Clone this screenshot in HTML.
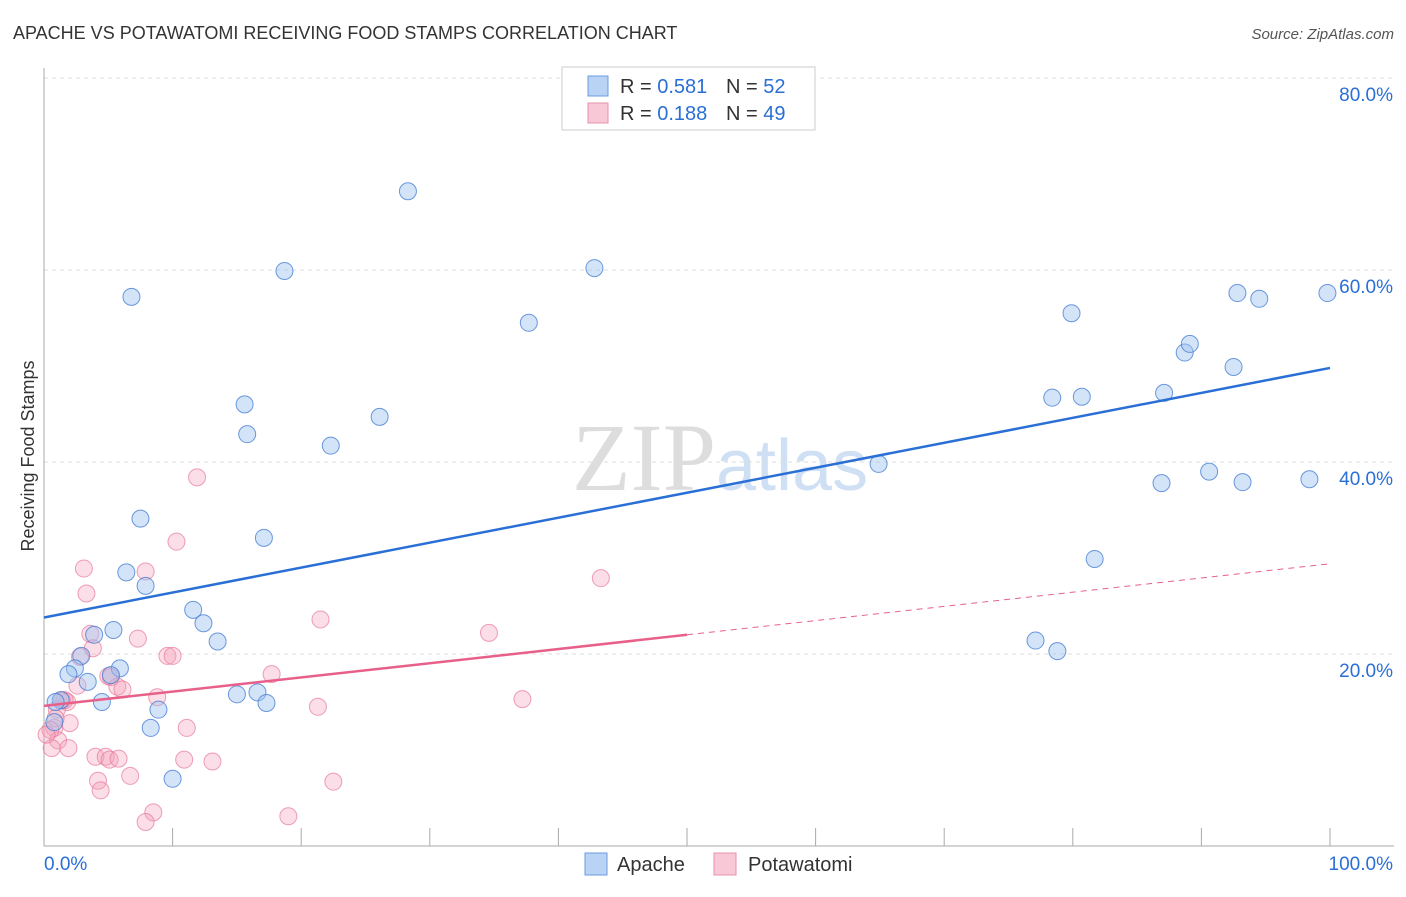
<!DOCTYPE html>
<html><head><meta charset="utf-8"><style>
body{margin:0;background:#fff;font-family:"Liberation Sans",sans-serif;}
#wrap{position:relative;width:1406px;height:892px;}
</style></head><body>
<div id="wrap">
<svg id="svg" width="1406" height="892" xmlns="http://www.w3.org/2000/svg">
<text x="13" y="39" font-size="18" fill="#333">APACHE VS POTAWATOMI RECEIVING FOOD STAMPS CORRELATION CHART</text>
<text x="1394" y="39" font-size="15" fill="#555" font-style="italic" text-anchor="end">Source: ZipAtlas.com</text>
<text x="34" y="456" font-size="18" fill="#333" transform="rotate(-90 34 456)" text-anchor="middle">Receiving Food Stamps</text>
<text x="716" y="490" font-size="96" fill="#ddd" text-anchor="end" font-family="Liberation Serif">ZIP</text>
<text x="716" y="490" font-size="72" fill="#cfe0f4">atlas</text>
<g id="grid"></g><g id="axes"></g><g id="pts"></g><g id="trends"></g>
<g>
<rect x="562" y="67" width="253" height="63" fill="#fff" stroke="#ccc"/>
<rect x="588" y="76" width="20" height="20" fill="#b9d3f5" stroke="#6a9be0"/>
<rect x="588" y="103" width="20" height="20" fill="#f8c8d6" stroke="#e890aa"/>
<text x="620" y="93" font-size="20" fill="#333">R = <tspan fill="#2a6fd6">0.581</tspan></text>
<text x="726" y="93" font-size="20" fill="#333">N = <tspan fill="#2a6fd6">52</tspan></text>
<text x="620" y="120" font-size="20" fill="#333">R = <tspan fill="#2a6fd6">0.188</tspan></text>
<text x="726" y="120" font-size="20" fill="#333">N = <tspan fill="#2a6fd6">49</tspan></text>
</g>
<g>
<rect x="585" y="853" width="22" height="22" fill="#b9d3f5" stroke="#6a9be0"/>
<text x="617" y="871" font-size="20" fill="#333">Apache</text>
<rect x="714" y="853" width="22" height="22" fill="#f8c8d6" stroke="#e890aa"/>
<text x="748" y="871" font-size="20" fill="#333">Potawatomi</text>
</g>
</svg></div>
<script>
const yTicks=[20,40,60,80];
const yTickLabels=["20.0%","40.0%","60.0%","80.0%"];
const xTickLabels=["0.0%","100.0%"];
const apacheX=[6.8,18.7,28.3,42.8,37.7,15.6,15.8,22.3,26.1,7.5,17.1,6.4,7.9,11.6,12.4,13.5,5.4,3.9,2.9,2.4,1.9,3.4,5.9,5.2,1.3,0.9,4.5,8.9,8.3,10.0,15.0,16.6,17.3,64.9,79.9,78.4,80.7,88.7,89.1,92.5,92.8,94.5,99.8,87.1,86.9,90.6,93.2,98.4,81.7,77.1,78.8,0.8];
const apacheY=[57.2,59.9,68.2,60.2,54.5,46.0,42.9,41.7,44.7,34.1,32.1,28.5,27.1,24.6,23.2,21.3,22.5,22.0,19.8,18.5,17.9,17.1,18.5,17.8,15.2,15.0,15.0,14.2,12.3,7.0,15.8,16.0,14.9,39.8,55.5,46.7,46.8,51.4,52.3,49.9,57.6,57.0,57.6,47.2,37.8,39.0,37.9,38.2,29.9,21.4,20.3,12.9];
const potX=[11.9,10.3,3.1,7.9,3.3,43.3,21.5,34.6,3.6,7.3,3.8,2.8,9.6,10.0,17.7,5.2,2.6,5.7,6.1,8.8,1.4,1.8,37.2,21.3,1.0,2.0,11.1,0.8,1.1,0.6,1.9,4.0,4.8,5.1,5.8,10.9,13.1,6.7,4.2,4.4,22.5,8.5,7.9,19.0,0.9,0.5,5.0,1.6,0.2];
const potY=[38.4,31.7,28.9,28.6,26.3,27.9,23.6,22.2,22.1,21.6,20.6,19.7,19.8,19.8,17.9,17.6,16.7,16.6,16.3,15.5,15.2,15.0,15.3,14.5,14.2,12.8,12.3,12.3,11.0,10.2,10.2,9.3,9.3,9.0,9.1,9.0,8.8,7.3,6.8,5.8,6.7,3.5,2.5,3.1,13.3,12.1,17.7,15.2,11.6];
const apacheTrend=[23.8,49.8];
const potTrend=[14.6,29.4];
const potSolidEnd=50;
const X0=44,X1=1330,Y0=846,PPY=9.6;
const sx=v=>X0+(X1-X0)*v/100, sy=v=>Y0-v*PPY;
const NS="http://www.w3.org/2000/svg";
function mk(tag,attrs,parent){const e=document.createElementNS(NS,tag);for(const k in attrs)e.setAttribute(k,attrs[k]);document.getElementById(parent).appendChild(e);return e;}
yTicks.forEach((t,i)=>{
 const g=mk('line',{x1:44,x2:1394,y1:sy(t),y2:sy(t),stroke:'#ddd','stroke-dasharray':'4,4'},'grid');
 
 
 const l=mk('text',{x:1393,y:sy(t)+23,'font-size':19,fill:'#2a6fd6','text-anchor':'end'},'grid');
 l.textContent=yTickLabels[i];
 
 
});
const topGrid=mk('line',{x1:44,x2:1394,y1:78,y2:78,stroke:'#ddd','stroke-dasharray':'4,4'},'grid');


const ya=mk('line',{x1:44,x2:44,y1:68,y2:846,stroke:'#aaa'},'axes');


const xa=mk('line',{x1:44,x2:1394,y1:846,y2:846,stroke:'#aaa'},'axes');


for(let i=1;i<=10;i++){const t=mk('line',{x1:sx(i*10),x2:sx(i*10),y1:828,y2:846,stroke:'#aaa'},'axes');
 
 }
const xl0=mk('text',{x:44,y:870,'font-size':19,fill:'#2a6fd6'},'axes');xl0.textContent=xTickLabels[0];


const xl1=mk('text',{x:1393,y:870,'font-size':19,fill:'#2a6fd6','text-anchor':'end'},'axes');xl1.textContent=xTickLabels[1];


potX.forEach((x,i)=>{const c=mk('circle',{cx:sx(x),cy:sy(potY[i]),r:8.5,fill:'rgba(244,160,185,0.35)',stroke:'rgba(232,120,155,0.7)','stroke-width':1},'pts');
 
 });
apacheX.forEach((x,i)=>{const c=mk('circle',{cx:sx(x),cy:sy(apacheY[i]),r:8.5,fill:'rgba(160,195,240,0.45)',stroke:'rgba(60,120,210,0.75)','stroke-width':1},'pts');
 
 });
const bt=mk('line',{x1:sx(0),y1:sy(apacheTrend[0]),x2:sx(100),y2:sy(apacheTrend[1]),stroke:'#2a6fd6','stroke-width':2.5},'trends');


const pAt=v=>potTrend[0]+(potTrend[1]-potTrend[0])*v/100;
const pt=mk('line',{x1:sx(0),y1:sy(pAt(0)),x2:sx(potSolidEnd),y2:sy(pAt(potSolidEnd)),stroke:'#e8608a','stroke-width':2.5},'trends');


const pd=mk('line',{x1:sx(potSolidEnd),y1:sy(pAt(potSolidEnd)),x2:sx(100),y2:sy(pAt(100)),stroke:'#e8608a','stroke-width':1,'stroke-dasharray':'6,5'},'trends');


</script>
</body></html>
